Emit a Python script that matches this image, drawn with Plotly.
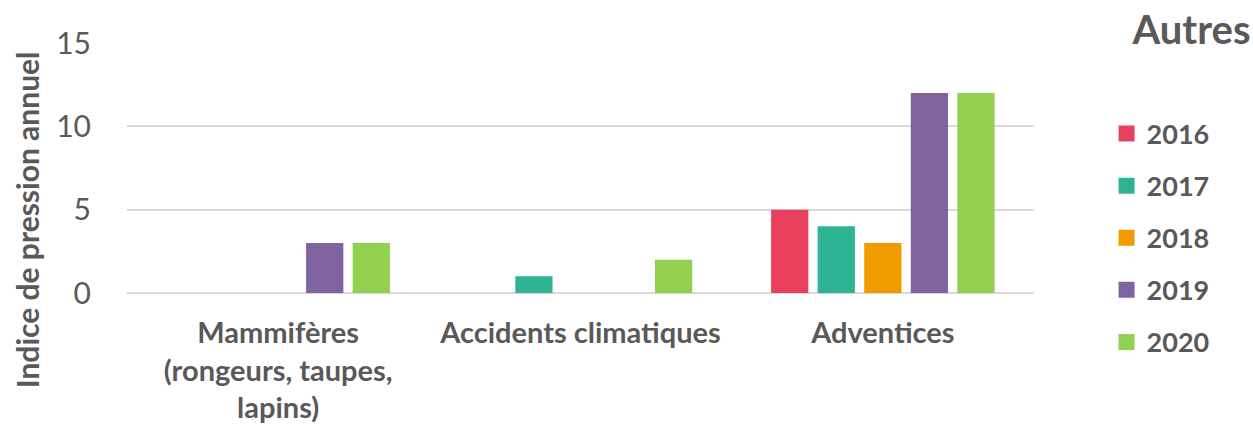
import plotly.graph_objects as go

categories = ["Mammifères<br>(rongeurs, taupes,<br>lapins)", "Accidents climatiques", "Adventices"]
years = ["2016", "2017", "2018", "2019", "2020"]
values_2016 = [0, 0, 5]
values_2017 = [0, 1, 4]
values_2018 = [0, 0, 3]
values_2019 = [3, 0, 12]
values_2020 = [3, 2, 12]
colors = ["#E9405D", "#2EB495", "#F29B00", "#8064A2", "#92D050"]

series = [values_2016, values_2017, values_2018, values_2019, values_2020]

FONT = "Lato"
GREY = "#595959"

fig = go.Figure()
for year, vals, col in zip(years, series, colors):
    fig.add_trace(go.Bar(x=categories, y=vals, name=year, marker_color=col,
                         marker_line_width=0, showlegend=False))
    # square swatch used for the legend entry
    fig.add_trace(go.Scatter(x=[None], y=[None], mode="markers",
                             name="<b>" + year + "</b>", legendgroup=year,
                             marker=dict(symbol="square", size=18, color=col)))

fig.add_annotation(text="<b>Indice de pression annuel</b>", textangle=-90,
                   xref="paper", x=-0.11, xanchor="center",
                   yref="paper", y=0.292, yanchor="middle", showarrow=False,
                   font=dict(family=FONT, size=30, color=GREY))

fig.update_layout(
    width=1253, height=425,
    margin=dict(l=127, r=219, t=43, b=132, autoexpand=False),
    paper_bgcolor="white", plot_bgcolor="white",
    barmode="group", bargap=0.23, bargroupgap=0.2,
    font=dict(family=FONT, color=GREY),
    title=dict(text="<b>Autres</b>", x=0.998, xanchor="right", xref="container",
               y=0.93, yanchor="middle", yref="container",
               font=dict(family=FONT, size=40, color=GREY)),
    legend=dict(x=1.08, xanchor="left", y=0.44, yanchor="middle", yref="container",
                maxheight=420,
                font=dict(family=FONT, size=27, color=GREY),
                tracegroupgap=14, traceorder="grouped",
                bgcolor="rgba(0,0,0,0)"),
    showlegend=True,
)
fig.update_xaxes(showgrid=False, showline=False, ticks="", automargin=False,
                 tickfont=dict(family=FONT, size=29, color=GREY),
                 ticklabelstandoff=20,
                 tickprefix="<b>", ticksuffix="</b>")
fig.update_yaxes(range=[0, 15], tickvals=[0, 5, 10, 15], showgrid=True,
                 automargin=False,
                 gridcolor="#D9D9D9", gridwidth=2, zeroline=True,
                 zerolinecolor="#D9D9D9", zerolinewidth=2, showline=False,
                 ticks="", tickfont=dict(family=FONT, size=30, color=GREY),
                 ticklabelstandoff=35)

fig.write_html("out.html")
